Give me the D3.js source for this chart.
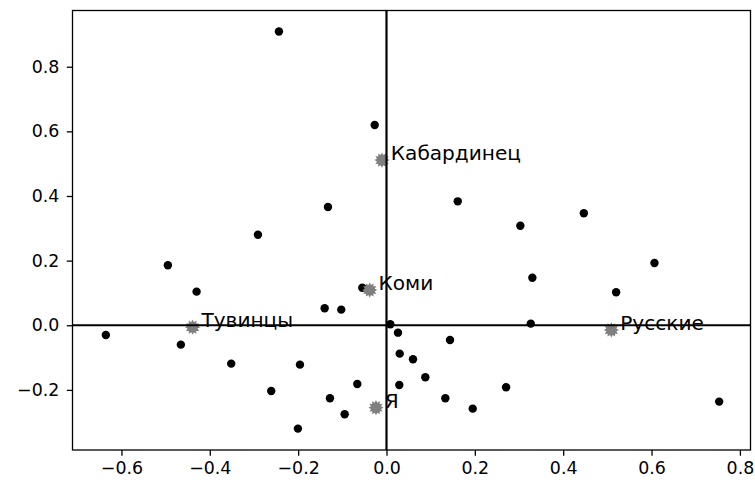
<!DOCTYPE html>
<html>
<head>
<meta charset="utf-8">
<script src="https://cdn.jsdelivr.net/npm/d3@7"></script>
<style>
  body { margin: 0; background: #fff; }
  svg { font-family: "DejaVu Sans", sans-serif; }
</style>
</head>
<body>
<div id="chart"></div>
<script>
// black points
var pointsX = [-0.2435, -0.0267, -0.1325, 0.1613, 0.303, 0.4467, -0.291, -0.4949, -0.4299, -0.0548,
  -0.14, -0.1024, -0.6353, -0.4655, 0.0086, 0.026, 0.0299, 0.060, -0.3515, -0.1959,
  -0.0661, 0.029, -0.2609, -0.128, -0.0947, -0.2005, 0.6066, 0.3302, 0.5198, 0.3266,
  0.1438, 0.0879, 0.2707, 0.1332, 0.1952, 0.7531];
var pointsY = [0.909, 0.6196, 0.366, 0.3835, 0.308, 0.3464, 0.280, 0.1856, 0.104, 0.1163,
  0.0526, 0.0483, -0.030, -0.060, 0.003, -0.0229, -0.0878, -0.105, -0.1188, -0.1219,
  -0.1816, -0.1847, -0.2032, -0.2258, -0.2753, -0.3198, 0.1927, 0.1472, 0.102, 0.005,
  -0.0455, -0.1608, -0.1918, -0.2258, -0.258, -0.2363];

// labelled (grey star) points
var labelNames = ["Кабардинец", "Коми", "Тувинцы", "Русские", "Я"];
var labelX = [-0.0102, -0.038, -0.439, 0.509, -0.0238];
var labelY = [0.511, 0.109, -0.006, -0.0145, -0.255];

var xTicks = [-0.6, -0.4, -0.2, 0.0, 0.2, 0.4, 0.6, 0.8];
var yTicks = [-0.2, 0.0, 0.2, 0.4, 0.6, 0.8];

var margin = {top: 10.5, left: 72.5, right: 4.5, bottom: 32},
    width = 755 - margin.left - margin.right,
    height = 482 - margin.top - margin.bottom;

var svg = d3.select("#chart").append("svg")
    .attr("width", 755)
    .attr("height", 482)
    .append("g")
    .attr("transform", "translate(" + margin.left + "," + margin.top + ")");

var x = d3.scaleLinear().domain([-0.7108, 0.824]).range([0, width]);
var y = d3.scaleLinear().domain([-0.386, 0.974]).range([height, 0]);

var fmt = function(d) { return d3.format(".1f")(d).replace("-", "\u2212"); };

// axes
var xAxis = svg.append("g")
    .attr("transform", "translate(0," + height + ")")
    .call(d3.axisBottom(x).tickValues(xTicks).tickFormat(fmt).tickSize(5.7).tickPadding(6));
var yAxis = svg.append("g")
    .call(d3.axisLeft(y).tickValues(yTicks).tickFormat(fmt).tickSize(5.7).tickPadding(7.5));

[xAxis, yAxis].forEach(function(a) {
  a.select(".domain").remove();
  a.selectAll(".tick line").attr("stroke", "#000").attr("stroke-width", 1.3);
  a.selectAll(".tick text").attr("fill", "#000").style("font-size", "17.4px")
    .style("font-family", "DejaVu Sans");
});

// frame
svg.append("rect")
    .attr("x", 0).attr("y", 0)
    .attr("width", width).attr("height", height)
    .attr("fill", "none").attr("stroke", "#000").attr("stroke-width", 1.3);

// black dots
var pts = pointsX.map(function(d, i) { return {x: d, y: pointsY[i]}; });
svg.selectAll(".dot").data(pts).enter().append("circle")
    .attr("class", "dot")
    .attr("cx", function(d) { return x(d.x); })
    .attr("cy", function(d) { return y(d.y); })
    .attr("r", 4.2)
    .attr("fill", "#000");

// star marker path (12 spikes)
function starPath(rOut, rIn, n) {
  var p = [];
  for (var i = 0; i < 2 * n; i++) {
    var r = i % 2 == 0 ? rOut : rIn;
    var a = Math.PI * i / n - Math.PI / 2;
    p.push([r * Math.cos(a), r * Math.sin(a)]);
  }
  return "M" + p.map(function(q) { return q[0].toFixed(2) + "," + q[1].toFixed(2); }).join("L") + "Z";
}

var labs = labelNames.map(function(d, i) { return {name: d, x: labelX[i], y: labelY[i]}; });

svg.selectAll(".star").data(labs).enter().append("path")
    .attr("class", "star")
    .attr("transform", function(d) { return "translate(" + x(d.x) + "," + y(d.y) + ")"; })
    .attr("d", starPath(7.6, 5.2, 12))
    .attr("fill", "#7f7f7f");

svg.selectAll(".lab").data(labs).enter().append("text")
    .attr("class", "lab")
    .attr("x", function(d) { return x(d.x + 0.02); })
    .attr("y", function(d) { return y(d.y); })
    .style("font-size", "20.1px")
    .attr("fill", "#000")
    .text(function(d) { return d.name; });

// zero lines
svg.append("line")
    .attr("x1", 0).attr("x2", width)
    .attr("y1", y(0)).attr("y2", y(0))
    .attr("stroke", "#000").attr("stroke-width", 2.2);
svg.append("line")
    .attr("x1", x(0)).attr("x2", x(0))
    .attr("y1", 0).attr("y2", height)
    .attr("stroke", "#000").attr("stroke-width", 2.2);
</script>
</body>
</html>
